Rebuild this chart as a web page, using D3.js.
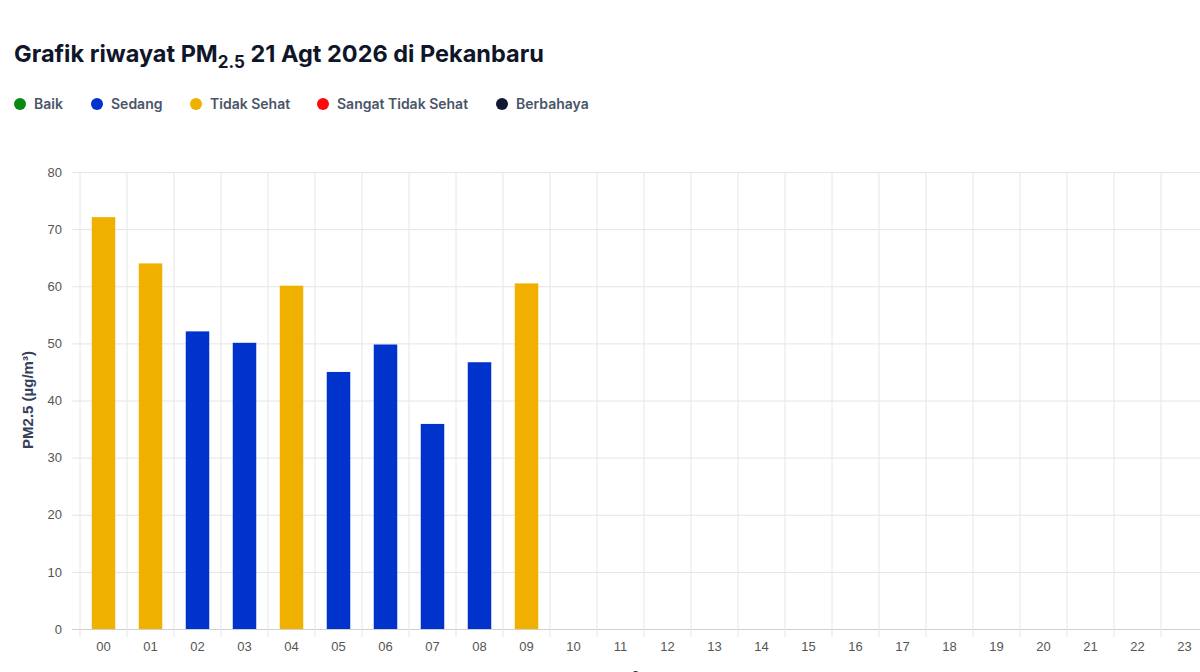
<!DOCTYPE html>
<html>
<head>
<meta charset="utf-8">
<script src="https://cdn.jsdelivr.net/npm/d3@7"></script>
<style>
  html, body { margin: 0; padding: 0; background: #fff; overflow: hidden; }
  svg { display: block; }
</style>
</head>
<body>
<svg id="chart" width="1200" height="672"></svg>
<script>
const hours = ["00","01","02","03","04","05","06","07","08","09","10","11",
               "12","13","14","15","16","17","18","19","20","21","22","23"];
const pmValues = [72.1, 64, 52.1, 50.1, 60.1, 45, 49.8, 35.9, 46.7, 60.5];
const pmCategory = ["Tidak Sehat","Tidak Sehat","Sedang","Sedang","Tidak Sehat",
                    "Sedang","Sedang","Sedang","Sedang","Tidak Sehat"];
const legendNames = ["Baik", "Sedang", "Tidak Sehat", "Sangat Tidak Sehat", "Berbahaya"];
const legendColors = ["#0a8a12", "#0033cc", "#f0b000", "#ff0a0a", "#111a33"];
const yTicks = [0, 10, 20, 30, 40, 50, 60, 70, 80];

const svg = d3.select("#chart");
const color = d3.scaleOrdinal().domain(legendNames).range(legendColors);

// title with subscript
const title = svg.append("text")
  .attr("x", 14)
  .attr("y", 62)
  .attr("font-family", "Inter, 'Noto Sans', sans-serif")
  .attr("font-weight", 700)
  .attr("font-size", 23.5)
  .attr("fill", "#0f1629");
title.append("tspan").text("Grafik riwayat PM");
title.append("tspan").attr("font-size", 17).attr("dy", 6).text("2.5");
title.append("tspan").attr("dy", -6).text(" 21 Agt 2026 di Pekanbaru");

// legend
const legendX = [20, 97, 196, 323, 502];
const lg = svg.append("g")
  .selectAll("g")
  .data(legendNames)
  .enter()
  .append("g")
  .attr("transform", (d, i) => `translate(${legendX[i]},104)`);

lg.append("circle")
  .attr("r", 6)
  .attr("fill", d => color(d));

lg.append("text")
  .attr("x", 14)
  .attr("y", 5)
  .attr("font-family", "Inter, 'Noto Sans', sans-serif")
  .attr("font-weight", 600)
  .attr("font-size", 14)
  .attr("fill", "#4a5568")
  .text(d => d);

// plot
const plotLeft = 80, plotRight = 1208, plotTop = 172, plotBottom = 629;

const x = d3.scaleBand().domain(hours).range([plotLeft, plotRight]).paddingInner(0.5).paddingOuter(0.25);
const xGrid = d3.scaleBand().domain(hours).range([plotLeft, plotRight]);
const y = d3.scaleLinear().domain([0, 80]).range([plotBottom, plotTop]);

// horizontal grid
svg.append("g")
  .attr("transform", `translate(${plotLeft},0)`)
  .call(d3.axisLeft(y).tickValues(yTicks).tickSize(-(plotRight - plotLeft)).tickSizeOuter(0).tickPadding(10))
  .call(g => g.select(".domain").remove())
  .call(g => g.selectAll(".tick line").attr("stroke", d => d === 0 ? "#cfcfcf" : "#e4e4e4"))
  .call(g => g.selectAll(".tick line").attr("x1", -8))
  .call(g => g.selectAll(".tick text")
    .attr("x", -18)
    .attr("font-family", "'Liberation Sans', Arial, sans-serif")
    .attr("font-size", 13)
    .attr("fill", "#555"));

// vertical grid
svg.append("g")
  .selectAll("line")
  .data(hours)
  .enter()
  .append("line")
  .attr("x1", d => xGrid(d))
  .attr("x2", d => xGrid(d))
  .attr("y1", plotTop)
  .attr("y2", plotBottom + 8)
  .attr("stroke", "#e6e6e6");

// x labels
svg.append("g")
  .attr("transform", `translate(0,${plotBottom})`)
  .call(d3.axisBottom(x).tickSize(0).tickPadding(13))
  .call(g => g.select(".domain").remove())
  .call(g => g.selectAll(".tick text")
    .attr("font-family", "'Liberation Sans', Arial, sans-serif")
    .attr("font-size", 13)
    .attr("fill", "#555"));

// bars
svg.append("g")
  .selectAll("rect")
  .data(pmValues)
  .enter()
  .append("rect")
  .attr("x", (d, i) => x(hours[i]))
  .attr("width", x.bandwidth())
  .attr("y", d => y(d))
  .attr("height", d => y(0) - y(d))
  .attr("fill", (d, i) => color(pmCategory[i]));

// axis titles
svg.append("text")
  .attr("transform", "translate(33,400) rotate(-90)")
  .attr("text-anchor", "middle")
  .attr("font-family", "'Liberation Sans', Arial, sans-serif")
  .attr("font-weight", 700)
  .attr("font-size", 15)
  .attr("fill", "#33415c")
  .text("PM2.5 (µg/m³)");

svg.append("text")
  .attr("x", (plotLeft + plotRight) / 2)
  .attr("y", 680)
  .attr("text-anchor", "middle")
  .attr("font-family", "'Liberation Sans', Arial, sans-serif")
  .attr("font-weight", 700)
  .attr("font-size", 13)
  .attr("fill", "#33415c")
  .text("Jam");
</script>
</body>
</html>
